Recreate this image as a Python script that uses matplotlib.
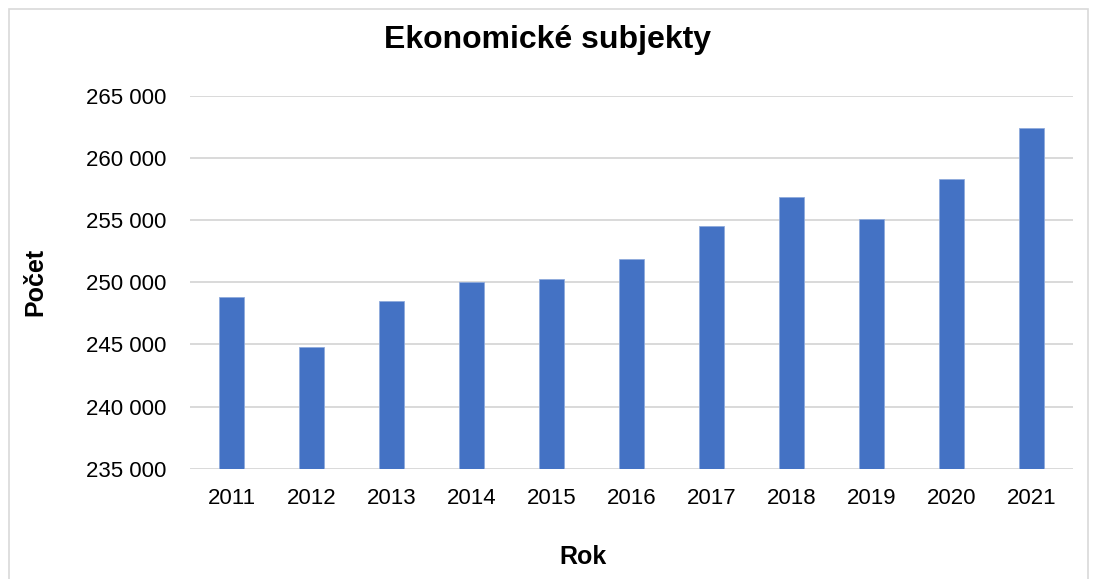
import matplotlib
matplotlib.use("Agg")
import matplotlib.pyplot as plt
from matplotlib.patches import Rectangle
from matplotlib.ticker import FuncFormatter

# data
roky = ["2011", "2012", "2013", "2014", "2015", "2016",
        "2017", "2018", "2019", "2020", "2021"]
pocet = [248800, 244760, 248470, 250030, 250220, 251850,
         254520, 256850, 255050, 258300, 262390]
y_ticks = [235000, 240000, 245000, 250000, 255000, 260000, 265000]

plt.rcParams.update({
    "font.size": 16,
    "font.family": ["Liberation Sans", "DejaVu Sans"],
})

fig = plt.figure(figsize=(10.95, 5.79), dpi=100)
ax = fig.add_axes([190 / 1095, 1 - 468.7 / 579, 883 / 1095, 373 / 579])

x = range(len(roky))
ax.bar(x, pocet, width=0.32, color="#4472C4", edgecolor="#8FAADC",
       linewidth=0.6, zorder=3)

ax.set_ylim(235000, 265000)
ax.set_yticks(y_ticks)
ax.yaxis.set_major_formatter(FuncFormatter(lambda v, p: f"{int(v):,}".replace(",", " ")))
ax.set_xlim(-0.52, 10.52)
ax.set_xticks(list(x))
ax.set_xticklabels(roky)

ax.grid(axis="y", color="#d9d9d9", linewidth=1.4, zorder=0)
ax.tick_params(axis="both", length=0, labelsize=16, colors="#000000")
ax.tick_params(axis="y", pad=17)
ax.tick_params(axis="x", pad=14)
for s in ax.spines.values():
    s.set_visible(False)

# titulky
fig.text(548 / 1095, 1 - 40 / 579, "Ekonomické subjekty", ha="center",
         va="center", fontsize=23, fontweight="bold")
fig.text(35 / 1095, 1 - 282 / 579, "Počet", ha="center", va="center",
         rotation=90, fontsize=18, fontweight="bold")
fig.text(583 / 1095, 1 - 557 / 579, "Rok", ha="center", va="center",
         fontsize=18, fontweight="bold")

# rámeček grafu
fig.patches.append(Rectangle((9 / 1095, -0.1), 1079 / 1095, 1.1 - 9 / 579,
                             transform=fig.transFigure, fill=False,
                             edgecolor="#d9d9d9", linewidth=1.2))

fig.savefig("out.png", dpi=100)
